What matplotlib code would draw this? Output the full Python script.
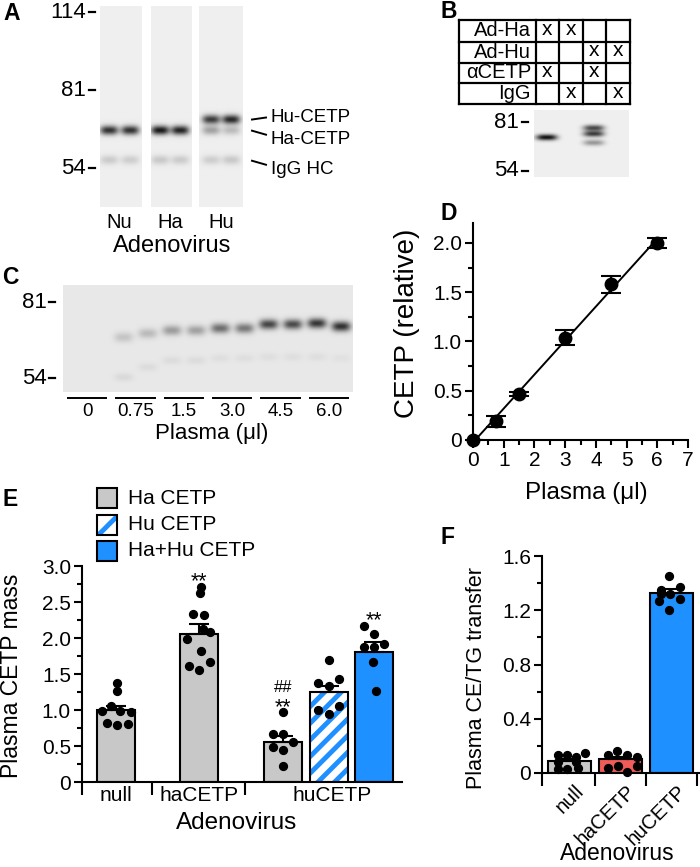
import matplotlib
matplotlib.use("Agg")
import matplotlib.pyplot as plt
import numpy as np
from matplotlib.patches import Rectangle
from matplotlib.ticker import FuncFormatter, MultipleLocator

plt.rcParams["font.family"] = ["Liberation Sans", "DejaVu Sans"]
plt.rcParams["hatch.linewidth"] = 3.5

W, H = 700, 867
BLUE = "#1e90ff"
GRAY = "#c8c8c8"
RED = "#f25c58"

# ── Data ──────────────────────────────────────────────────────────────
# A: IP blot, two lanes per adenovirus (band intensity per lane)
a_markers = [114, 81, 54]
a_lane_names = ["Nu", "Ha", "Hu"]
a_band_names = ["Hu-CETP", "Ha-CETP", "IgG HC"]
a_band_kda = [69.6, 65.8, 56.4]
a_hu_cetp = [0, 0, 0, 0, 0.70, 0.78]
a_ha_cetp = [0.74, 0.74, 0.84, 0.80, 0.30, 0.20]
a_igg = [0.14, 0.13, 0.15, 0.14, 0.13, 0.15]

# B: specificity table + blot
b_markers = [81, 54]
b_rows = ["Ad-Ha", "Ad-Hu", "αCETP", "IgG"]
b_marks = [[1, 1, 0, 0],
           [0, 0, 1, 1],
           [1, 0, 1, 0],
           [0, 1, 0, 1]]
b_band_lane = [0, 2, 2, 2]
b_band_kda = [71.5, 77.3, 73.6, 68.4]
b_band_amp = [0.88, 0.65, 0.70, 0.35]

# C: plasma dilution blot (12 lanes, duplicates)
c_markers = [81, 54]
c_groups = ["0", "0.75", "1.5", "3.0", "4.5", "6.0"]
c_main_kda = [67, 67, 67.2, 68.6, 69.7, 69.7, 70.5, 70.5, 72.0, 72.0, 72.4, 71.2]
c_main_amp = [0, 0, 0.14, 0.18, 0.30, 0.28, 0.48, 0.44, 0.64, 0.62, 0.70, 0.72]
c_low_kda = [55, 55, 54.3, 57.3, 59.4, 59.4, 60.1, 60.1, 60.5, 60.5, 60.5, 60.1]
c_low_amp = [0, 0, 0.06, 0.05, 0.05, 0.05, 0.04, 0.04, 0.04, 0.04, 0.04, 0.03]

# D: standard curve
d_plasma = [0, 0.75, 1.5, 3.0, 4.5, 6.0]
d_cetp = [0, 0.19, 0.47, 1.04, 1.58, 2.00]
d_err = [0, 0.055, 0.02, 0.08, 0.09, 0.05]

# E: plasma CETP mass
e_groups = ["null", "haCETP", "huCETP"]
e_legend = ["Ha CETP", "Hu CETP", "Ha+Hu CETP"]
e_kind = ["ha", "ha", "ha", "hu", "both"]
e_means = [1.00, 2.06, 0.56, 1.25, 1.81]
e_sem = [0.06, 0.14, 0.08, 0.08, 0.14]
e_points = [
    [1.37, 1.26, 1.06, 0.98, 0.99, 0.97, 0.82, 0.79, 0.81],
    [2.71, 2.63, 2.34, 2.32, 2.12, 2.09, 1.98, 1.82, 1.61, 1.56, 1.66],
    [0.97, 0.67, 0.67, 0.56, 0.49, 0.45, 0.22],
    [1.70, 1.37, 1.33, 1.43, 1.00, 0.95, 1.05],
    [2.17, 2.06, 1.88, 1.88, 1.92, 1.67, 1.26],
]
e_jitter = [
    [0.03, 0.03, -0.12, -0.37, 0.12, 0.40, -0.24, 0.03, 0.31],
    [0.04, 0.01, -0.18, 0.11, 0.10, 0.29, -0.32, 0.05, -0.27, -0.01, 0.29],
    [0.01, -0.26, 0.01, 0.26, -0.26, 0.01, 0.01],
    [0.0, -0.28, 0.0, 0.26, -0.28, 0.0, 0.26],
    [-0.28, 0.0, -0.28, 0.0, 0.25, -0.02, 0.04],
]
e_stars = ["", "**", "**", "", "**"]
e_hash = ["", "", "##", "", ""]

# F: CE/TG transfer
f_groups = ["null", "haCETP", "huCETP"]
f_means = [0.09, 0.10, 1.33]
f_sem = [0.01, 0.015, 0.03]
f_points = [
    [0.13, 0.13, 0.12, 0.15, 0.08, 0.08, 0.03, 0.03, 0.04],
    [0.13, 0.16, 0.13, 0.12, 0.05, 0.04, 0.05, 0.01],
    [1.45, 1.37, 1.35, 1.32, 1.32, 1.28, 1.27, 1.20],
]
f_jitter = [
    [-0.22, -0.05, 0.13, 0.31, -0.22, 0.13, -0.22, -0.05, 0.16],
    [-0.25, -0.07, 0.12, 0.32, 0.32, -0.24, -0.04, 0.12],
    [-0.04, 0.17, -0.20, -0.02, -0.20, 0.17, -0.24, -0.04],
]

# ── Figure + pixel overlay ────────────────────────────────────────────
fig = plt.figure(figsize=(W / 100, H / 100), dpi=100)
ov = fig.add_axes([0, 0, 1, 1])
ov.set_xlim(0, W)
ov.set_ylim(H, 0)
ov.axis("off")


def px_rect(left, top, right, bottom):
    return [left / W, 1 - bottom / H, (right - left) / W, (bottom - top) / H]


def kda_to_y(kda, marker_kda, marker_y):
    return float(np.interp(-np.log(kda), -np.log(np.asarray(marker_kda, float)), marker_y))


def draw_blot(x0, x1, y0, y1, bands, bg):
    xs = np.arange(x0, x1, 0.5)
    ys = np.arange(y0, y1, 0.5)
    X, Y = np.meshgrid(xs, ys)
    img = np.full(X.shape, bg)
    for xc, yc, amp, hw, hh in bands:
        img += amp * np.exp(-np.abs((X - xc) / hw) ** 3 - ((Y - yc) / hh) ** 2)
    ov.imshow(np.clip(img, 0, 1), cmap="gray_r", vmin=0, vmax=1,
              extent=(x0, x1, y1, y0), aspect="auto", interpolation="bilinear")


def draw_markers(markers, ys, x_text, x_tick):
    for m, y in zip(markers, ys):
        ov.text(x_text, y, str(m), ha="right", va="center", fontsize=16)
        ov.plot([x_tick, x_tick + 6], [y, y], color="black", lw=1.6)


def panel_label(x, y, s):
    ov.text(x, y, s, ha="center", va="center", fontsize=16.5, fontweight="bold")


# ── A ─────────────────────────────────────────────────────────────────
a_marker_y = [12, 90, 168]
a_strips = [(100, 142), (151, 192), (199, 243)]
a_lane_x = [109, 130, 160, 180, 211, 231]
for s, (x0, x1) in enumerate(a_strips):
    bands = []
    for lane in (2 * s, 2 * s + 1):
        xc = a_lane_x[lane]
        for kda, amps in zip(a_band_kda, [a_hu_cetp, a_ha_cetp, a_igg]):
            if amps[lane] > 0:
                bands.append((xc, kda_to_y(kda, a_markers, a_marker_y), amps[lane], 9, 4.6))
    draw_blot(x0, x1, 6, 207, bands, 0.065)
draw_markers(a_markers, a_marker_y, 86, 89)
for i, name in enumerate(a_lane_names):
    ov.text(np.mean(a_lane_x[2 * i:2 * i + 2]), 222, name, ha="center", va="center", fontsize=14.5)
ov.text(172, 246, "Adenovirus", ha="center", va="center", fontsize=17)
a_label_y = [117, 139, 170]
a_line_dy = [-2, 4, 4]
for name, ty, kda, dy in zip(a_band_names, a_label_y, a_band_kda, a_line_dy):
    y = kda_to_y(kda, a_markers, a_marker_y)
    ov.plot([252, 266], [y - dy / 2 + (ty - y) * 0.3, y + dy / 2 + (ty - y) * 0.3], color="black", lw=1.4)
    ov.text(271, ty, name, ha="left", va="center", fontsize=13.5)
panel_label(12, 13, "A")

# ── B ─────────────────────────────────────────────────────────────────
b_col_edges = [459, 536, 559, 583, 606, 630]
b_row_edges = [20, 41.5, 62.5, 83, 104]
for x in b_col_edges:
    ov.plot([x, x], [b_row_edges[0], b_row_edges[-1]], color="black", lw=1.6)
for y in b_row_edges:
    ov.plot([b_col_edges[0], b_col_edges[-1]], [y, y], color="black", lw=1.6)
for r, name in enumerate(b_rows):
    yc = (b_row_edges[r] + b_row_edges[r + 1]) / 2
    ov.text(531, yc, name, ha="right", va="center", fontsize=14.5)
    for c, mark in enumerate(b_marks[r]):
        if mark:
            ov.text((b_col_edges[c + 1] + b_col_edges[c + 2]) / 2, yc - 1, "x",
                    ha="center", va="center", fontsize=15)
b_marker_y = [122, 171]
b_lane_x = [(b_col_edges[c + 1] + b_col_edges[c + 2]) / 2 for c in range(4)]
b_bands = [(b_lane_x[l] - 1, kda_to_y(k, b_markers, b_marker_y), a, 10.5, 3.0)
           for l, k, a in zip(b_band_lane, b_band_kda, b_band_amp)]
draw_blot(534, 629, 110, 177, b_bands, 0.06)
draw_markers(b_markers, b_marker_y, 519, 522)
panel_label(449, 11, "B")

# ── C ─────────────────────────────────────────────────────────────────
c_marker_y = [302, 378]
c_x0, c_x1 = 63, 353
c_lane_w = (c_x1 - c_x0) / len(c_main_kda)
c_lane_x = [c_x0 + (i + 0.5) * c_lane_w for i in range(len(c_main_kda))]
c_bands = []
for i, xc in enumerate(c_lane_x):
    if c_main_amp[i] > 0:
        c_bands.append((xc, kda_to_y(c_main_kda[i], c_markers, c_marker_y), c_main_amp[i], 9.5, 5.0))
    if c_low_amp[i] > 0:
        c_bands.append((xc, kda_to_y(c_low_kda[i], c_markers, c_marker_y), c_low_amp[i], 9.5, 4.0))
draw_blot(c_x0, c_x1, 285, 392, c_bands, 0.09)
draw_markers(c_markers, c_marker_y, 47, 49)
for g, lab in enumerate(c_groups):
    xa, xb = c_lane_x[2 * g], c_lane_x[2 * g + 1]
    ov.plot([xa - 7, xb + 7], [398, 398], color="black", lw=1.4)
    ov.text((xa + xb) / 2, 411, lab, ha="center", va="center", fontsize=13.5)
ov.text(212, 433, "Plasma (μl)", ha="center", va="center", fontsize=16)
panel_label(10, 278, "C")

# ── D ─────────────────────────────────────────────────────────────────
zero_fmt = FuncFormatter(lambda v, p: "0" if abs(v) < 1e-9 else f"{v:.1f}")


def style_axis(ax):
    for side in ("top", "right"):
        ax.spines[side].set_visible(False)
    for side in ("left", "bottom"):
        ax.spines[side].set_linewidth(1.5)
    ax.tick_params(which="major", direction="out", length=6, width=1.5, labelsize=15, pad=2)
    ax.tick_params(which="minor", direction="out", length=3.5, width=1.5)
    ax.patch.set_visible(False)


axd = fig.add_axes(px_rect(473, 223.3, 688, 440))
slope, icpt = np.polyfit(d_plasma, d_cetp, 1)
xf = np.array([0, max(d_plasma)])
axd.plot(xf, slope * xf + icpt, color="black", lw=1.4, zorder=2)
axd.errorbar(d_plasma, d_cetp, yerr=d_err, fmt="none", ecolor="black",
             elinewidth=1.5, capsize=7, capthick=1.5, zorder=2)
axd.plot(d_plasma, d_cetp, "o", color="black", ms=9, clip_on=False, zorder=3)
axd.set_xlim(0, 7)
axd.set_ylim(0, 2.2)
axd.xaxis.set_major_locator(MultipleLocator(1))
axd.xaxis.set_minor_locator(MultipleLocator(0.5))
axd.yaxis.set_major_locator(MultipleLocator(0.5))
axd.yaxis.set_minor_locator(MultipleLocator(0.25))
axd.yaxis.set_major_formatter(zero_fmt)
style_axis(axd)
ov.text(586, 493, "Plasma (μl)", ha="center", va="center", fontsize=17.5)
ov.text(407, 323, "CETP (relative)", ha="center", va="center", rotation=90, fontsize=20)
panel_label(449, 213, "D")

# ── E ─────────────────────────────────────────────────────────────────
e_x = [0, 2.2, 4.4, 5.6, 6.8]
e_sep = [-0.89, 0.95, 3.39]
axe = fig.add_axes(px_rect(82, 566, 402, 782))
for x, m, kind in zip(e_x, e_means, e_kind):
    if kind == "hu":
        axe.bar(x, m, width=1.0, color="white", edgecolor=BLUE, hatch="//", lw=0, zorder=1)
        axe.bar(x, m, width=1.0, color="none", edgecolor="black", lw=1.5, zorder=2)
    else:
        axe.bar(x, m, width=1.0, color=GRAY if kind == "ha" else BLUE,
                edgecolor="black", lw=1.5, zorder=2)
axe.errorbar(e_x, e_means, yerr=[np.zeros(len(e_sem)), e_sem], fmt="none", ecolor="black",
             elinewidth=1.5, capsize=7, capthick=1.5, zorder=2)
for x, pts, jit, st, hs in zip(e_x, e_points, e_jitter, e_stars, e_hash):
    axe.scatter(np.array(jit) + x, pts, s=32, color="black", zorder=3, clip_on=False)
    top = max(pts) + 0.16
    if st:
        axe.text(x, top - 0.17, st, ha="center", va="baseline", fontsize=15.5)
    if hs:
        axe.text(x, top + 0.12, hs, ha="center", va="baseline", fontsize=12)
axe.set_xlim(-0.89, 7.53)
axe.set_ylim(0, 3)
axe.yaxis.set_major_locator(MultipleLocator(0.5))
axe.yaxis.set_minor_locator(MultipleLocator(0.25))
axe.yaxis.set_major_formatter(zero_fmt)
style_axis(axe)
axe.set_xticks([e_x[0], e_x[1], np.mean(e_x[2:]) + 0.1])
axe.set_xticklabels(e_groups)
axe.set_xticks(e_sep, minor=True)
axe.tick_params(axis="x", which="major", length=0, pad=3, labelsize=15)
axe.tick_params(axis="x", which="minor", length=9.5, width=1.5)
ov.text(237, 823, "Adenovirus", ha="center", va="center", fontsize=17.5)
ov.text(12, 676, "Plasma CETP mass", ha="center", va="center", rotation=90, fontsize=16.5)
# legend
leg_rows_y = [488, 515, 541]
for y, lab, kind in zip(leg_rows_y, e_legend, ["ha", "hu", "both"]):
    if kind == "hu":
        ov.add_patch(Rectangle((97, y), 20, 20, facecolor="white", edgecolor=BLUE, hatch="/", lw=0))
        ov.add_patch(Rectangle((97, y), 20, 20, facecolor="none", edgecolor="black", lw=1.5))
    else:
        ov.add_patch(Rectangle((97, y), 20, 20, facecolor=GRAY if kind == "ha" else BLUE,
                               edgecolor="black", lw=1.5))
    ov.text(128, y + 10, lab, ha="left", va="center", fontsize=15)
panel_label(10, 499, "E")

# ── F ─────────────────────────────────────────────────────────────────
f_x = np.arange(len(f_groups))
axf = fig.add_axes(px_rect(542, 556, 700, 773))
axf.bar(f_x, f_means, width=0.84, color=[GRAY, RED, BLUE], edgecolor="black", lw=1.5, zorder=2)
axf.errorbar(f_x, f_means, yerr=[np.zeros(len(f_sem)), f_sem], fmt="none", ecolor="black",
             elinewidth=1.5, capsize=7, capthick=1.5, zorder=2)
for x, pts, jit in zip(f_x, f_points, f_jitter):
    axf.scatter(np.array(jit) + x, pts, s=32, color="black", zorder=3, clip_on=False)
axf.set_xlim(-0.54, 2.56)
axf.set_ylim(0, 1.6)
axf.yaxis.set_major_locator(MultipleLocator(0.4))
axf.yaxis.set_minor_locator(MultipleLocator(0.2))
axf.yaxis.set_major_formatter(zero_fmt)
style_axis(axf)
axf.set_xticks(f_x + 0.1)
axf.set_xticklabels(f_groups, rotation=45, ha="right", va="top", rotation_mode="anchor")
axf.set_xticks([-0.54, 0.5, 1.5, 2.5], minor=True)
axf.tick_params(axis="x", which="major", length=0, pad=6, labelsize=14.5)
axf.tick_params(axis="x", which="minor", length=9, width=1.5)
ov.text(617, 853, "Adenovirus", ha="center", va="center", fontsize=16.5)
ov.text(477, 678, "Plasma CE/TG transfer", ha="center", va="center", rotation=90, fontsize=15.5)
panel_label(447, 537, "F")

fig.savefig("out.png", dpi=100)
